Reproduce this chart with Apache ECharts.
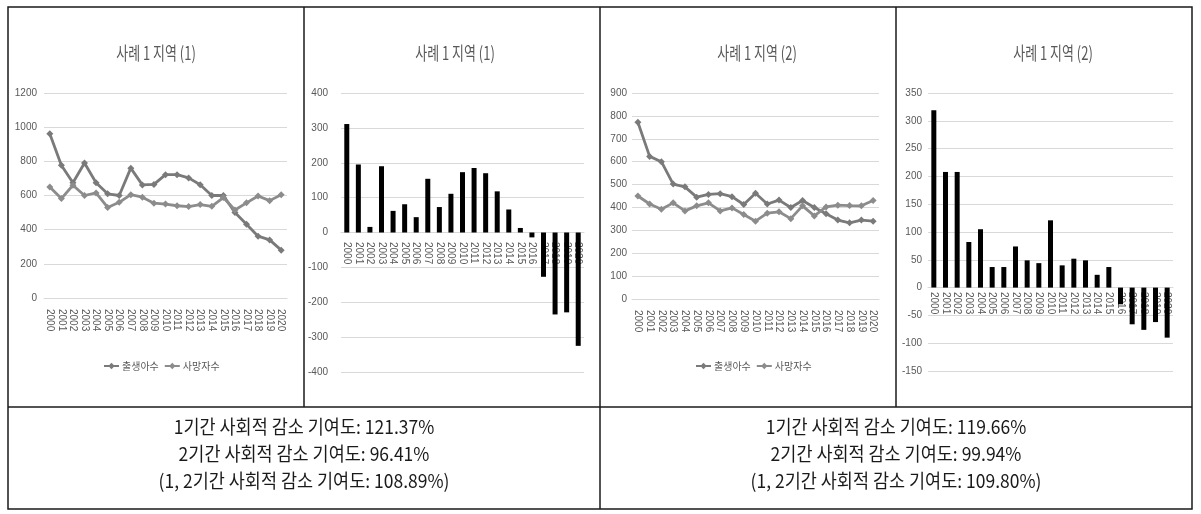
<!DOCTYPE html>
<html>
<head>
<meta charset="utf-8">
<script src="https://cdn.jsdelivr.net/npm/echarts@6/dist/echarts.min.js"></script>
<style>
html,body{margin:0;padding:0;background:#fff;}
#c{width:1201px;height:514px;}
</style>
</head>
<body>
<div id="c"></div>
<script>
// ---- data ----
const years = ['2000','2001','2002','2003','2004','2005','2006','2007','2008','2009','2010','2011','2012','2013','2014','2015','2016','2017','2018','2019','2020'];
const seriesNames = ['출생아수', '사망자수'];
const titleText1 = '사례 1 지역 (1)';
const titleText2 = '사례 1 지역 (2)';

// Region (1)
const births1 = [962, 777, 675, 790, 675, 610, 600, 760, 662, 665, 722, 722, 703, 663, 600, 600, 500, 432, 362, 340, 280];
const deaths1 = [650, 582, 660, 600, 615, 530, 560, 605, 590, 555, 550, 540, 535, 547, 537, 588, 515, 557, 597, 570, 605];
const diff1 = [311, 195, 16, 190, 62, 81, 44, 154, 73, 111, 173, 185, 170, 118, 66, 13, -14, -127, -235, -229, -325];

// Region (2)
const births2 = [772, 623, 600, 502, 490, 445, 457, 460, 447, 413, 462, 415, 432, 400, 430, 400, 372, 345, 333, 345, 340];
const deaths2 = [450, 415, 392, 420, 385, 407, 420, 385, 398, 369, 340, 375, 381, 351, 407, 363, 402, 410, 408, 407, 430];
const diff2 = [319, 208, 208, 82, 105, 37, 37, 74, 49, 44, 121, 40, 52, 49, 23, 37, -30, -66, -76, -62, -90];

const noteLeft = ['1기간 사회적 감소 기여도: 121.37%', '2기간 사회적 감소 기여도: 96.41%', '(1, 2기간 사회적 감소 기여도: 108.89%)'];
const noteRight = ['1기간 사회적 감소 기여도: 119.66%', '2기간 사회적 감소 기여도: 99.94%', '(1, 2기간 사회적 감소 기여도: 109.80%)'];

// ---- chart ----
const chart = echarts.init(document.getElementById('c'), null, {renderer: 'canvas'});
const GRAY = '#595959';
const GRID = '#d9d9d9';
const NARROW = '"Liberation Sans Narrow", "Liberation Sans", sans-serif';
const KR = '"Noto Sans CJK KR", sans-serif';

function xAxis(gridIndex, margin, offset) {
  return {
    type: 'category', gridIndex, data: years, boundaryGap: true,
    position: 'bottom', offset: offset,
    axisLine: {show: true, onZero: false, lineStyle: {color: GRID, width: 1}},
    axisTick: {show: false},
    axisLabel: {interval: 0, rotate: -90, color: GRAY, fontSize: 10, fontFamily: '"Liberation Sans", sans-serif', margin}
  };
}
function yAxis(gridIndex, min, max, interval, margin) {
  return {
    type: 'value', gridIndex, min, max, interval,
    axisLine: {show: false}, axisTick: {show: false},
    splitLine: {show: true, lineStyle: {color: GRID, width: 1}},
    axisLabel: {color: GRAY, fontSize: 10, fontFamily: NARROW, margin, formatter: v => String(v)}
  };
}
function lineSeries(name, data, idx, color) {
  return {
    name, type: 'line', xAxisIndex: idx, yAxisIndex: idx, data,
    symbol: 'diamond', symbolSize: 7, showSymbol: true,
    lineStyle: {color, width: 2.8}, itemStyle: {color},
    animation: false
  };
}
function barSeries(data, idx) {
  return {
    type: 'bar', xAxisIndex: idx, yAxisIndex: idx, data, barWidth: 5,
    itemStyle: {color: '#000'}, animation: false
  };
}

const border = '#1a1a1a';
const graphics = [
  {type: 'rect', shape: {x: 8, y: 7, width: 1184, height: 502}, style: {fill: 'none', stroke: border, lineWidth: 1.5}},
  {type: 'line', shape: {x1: 8, y1: 407, x2: 1192, y2: 407}, style: {stroke: border, lineWidth: 1.5}},
  {type: 'line', shape: {x1: 304, y1: 7, x2: 304, y2: 407}, style: {stroke: border, lineWidth: 1.5}},
  {type: 'line', shape: {x1: 600, y1: 7, x2: 600, y2: 509}, style: {stroke: border, lineWidth: 1.5}},
  {type: 'line', shape: {x1: 896, y1: 7, x2: 896, y2: 407}, style: {stroke: border, lineWidth: 1.5}}
];
const lineYs = [427, 454, 481];
noteLeft.forEach((t, i) => graphics.push({type: 'text', x: 304, y: lineYs[i], scaleX: 0.92, style: {text: t, fill: '#1a1a1a', font: '19px ' + KR, textAlign: 'center', textVerticalAlign: 'middle'}}));
noteRight.forEach((t, i) => graphics.push({type: 'text', x: 896, y: lineYs[i], scaleX: 0.92, style: {text: t, fill: '#1a1a1a', font: '19px ' + KR, textAlign: 'center', textVerticalAlign: 'middle'}}));

// chart titles (condensed like the reference)
[[titleText1, 156], [titleText1, 455], [titleText2, 757], [titleText2, 1053]].forEach(([t, cx]) => {
  graphics.push({type: 'text', x: cx, y: 53, scaleX: 0.72, style: {text: t, fill: GRAY, font: '18px ' + KR, textAlign: 'center', textVerticalAlign: 'middle'}});
});

function legend(left) {
  return {data: seriesNames, left: left, top: 356, orient: 'horizontal', itemGap: 5, itemWidth: 15, itemHeight: 8,
    textStyle: {color: GRAY, fontSize: 10, fontFamily: KR, padding: [0, 0, 0, -2]}, selectedMode: false};
}

chart.setOption({
  backgroundColor: '#fff',
  animation: false,
  legend: [legend(98), legend(690)],
  grid: [
    {left: 44, top: 93, width: 243, height: 205},
    {left: 341, top: 93, width: 243, height: 279},
    {left: 632, top: 93, width: 247, height: 206},
    {left: 928, top: 93, width: 245, height: 278}
  ],
  xAxis: [xAxis(0, 11, 0), xAxis(1, 10, -140), xAxis(2, 11, 0), xAxis(3, 5, -84)],
  yAxis: [
    yAxis(0, 0, 1200, 200, 7),
    yAxis(1, -400, 400, 100, 13),
    yAxis(2, 0, 900, 100, 5),
    yAxis(3, -150, 350, 50, 6)
  ],
  series: [
    lineSeries(seriesNames[0], births1, 0, '#7a7a7a'),
    lineSeries(seriesNames[1], deaths1, 0, '#8c8c8c'),
    barSeries(diff1, 1),
    lineSeries(seriesNames[0], births2, 2, '#7a7a7a'),
    lineSeries(seriesNames[1], deaths2, 2, '#8c8c8c'),
    barSeries(diff2, 3)
  ],
  graphic: graphics
});
</script>
</body>
</html>
